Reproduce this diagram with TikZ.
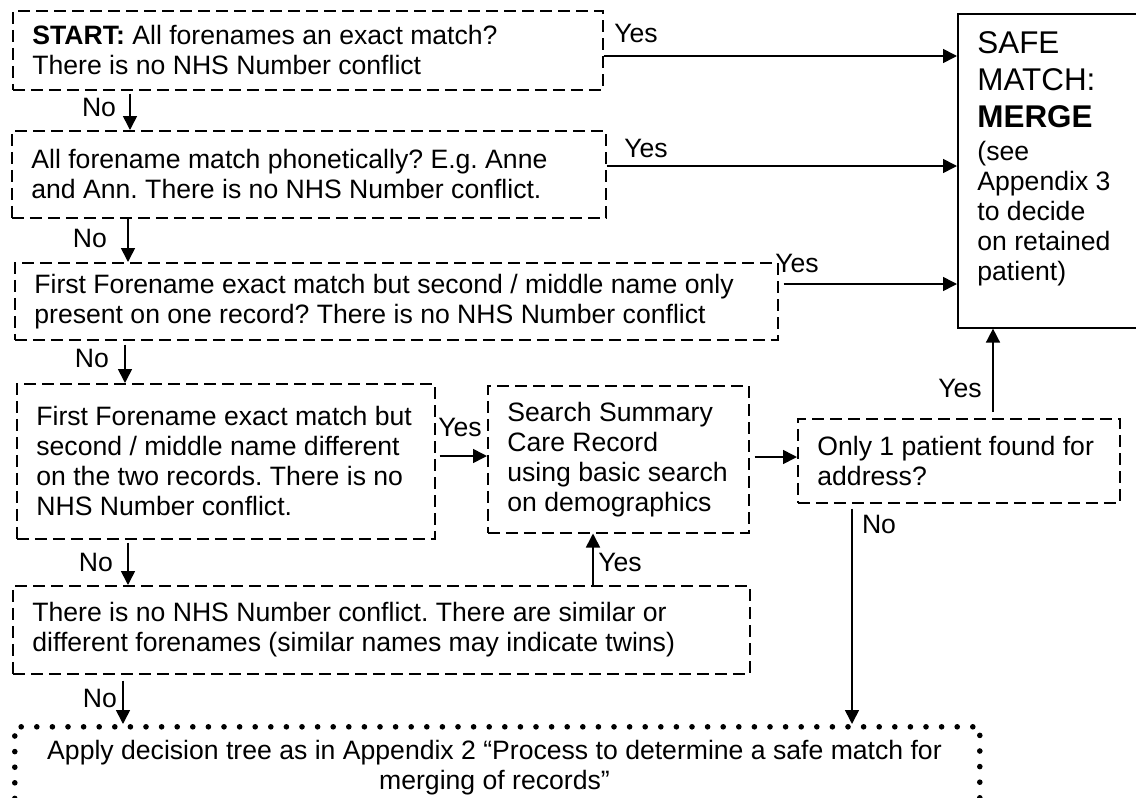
\documentclass[tikz,border=0pt]{standalone}
\usepackage{fontspec}
\setmainfont{Liberation Sans}
\usetikzlibrary{arrows.meta}
\frenchspacing
\begin{document}
\begin{tikzpicture}[x=0.5pt,y=-0.5pt,
  dbox/.style={draw, dash pattern=on 6pt off 3pt, line width=0.75pt, rectangle, inner sep=0pt, anchor=north west},
  sbox/.style={draw, line width=0.8pt, rectangle, inner sep=0pt, anchor=north west},
  pbox/.style={draw, dash pattern=on 0pt off 7.8pt, line cap=round, line width=2.8pt, rectangle, inner sep=0pt, anchor=north west},
  txt/.style={align=left, inner xsep=10pt, inner ysep=0pt, font=\fontsize{13.3}{15}\selectfont\frenchspacing, anchor=west},
  bigtxt/.style={align=left, inner xsep=10pt, inner ysep=0pt, font=\fontsize{15.7}{18.5}\selectfont, anchor=west},
  lbl/.style={inner sep=0pt, font=\fontsize{13.3}{15}\selectfont},
  arr/.style={-{Triangle[length=7pt,width=7pt]}, line width=0.8pt}
]
\useasboundingbox (0,0) rectangle (1136,798);
\clip (0,0) rectangle (1136,798);

% boxes
\node[dbox, minimum width=295pt, minimum height=39.5pt] (b1) at (12,10) {};
\node[dbox, minimum width=297pt, minimum height=43.5pt] (b2) at (11,130) {};
\node[dbox, minimum width=381.5pt, minimum height=38.5pt] (b3) at (14,262) {};
\node[dbox, minimum width=209pt, minimum height=77.5pt] (b4) at (16,383) {};
\node[dbox, minimum width=130.5pt, minimum height=73.5pt] (s) at (487,385) {};
\node[dbox, minimum width=161pt, minimum height=42pt] (only) at (797,418) {};
\node[dbox, minimum width=368.5pt, minimum height=44pt] (b7) at (12,585) {};
\node[pbox, minimum width=482.5pt, minimum height=60pt] (apply) at (12,724) {};
\node[sbox, minimum width=100pt, minimum height=157pt] (safe) at (957,13) {};

% texts
\node[txt] (t1) at (b1.west) {\textbf{START:} All forenames an exact match?\\There is no NHS Number conflict};
\node[txt] (t2) at (b2.west) {All forename match phonetically? E.g. Anne\\and Ann. There is no NHS Number conflict.};
\node[txt] (t3) at (b3.west) {First Forename exact match but second / middle name only\\present on one record? There is no NHS Number conflict};
\node[txt] (t4) at (b4.west) {First Forename exact match but\\second / middle name different\\on the two records. There is no\\NHS Number conflict.};
\node[txt] (ts) at (s.west) {Search Summary\\Care Record\\using basic search\\on demographics};
\node[txt] (tonly) at (only.west) {Only 1 patient found for\\address?};
\node[txt] (t7) at (b7.west) {There is no NHS Number conflict. There are similar or\\different forenames (similar names may indicate twins)};
\node[align=center, inner sep=0pt, font=\fontsize{13.3}{15}\selectfont\frenchspacing] (tapply) at (494.5,768) {Apply decision tree as in Appendix 2 “Process to determine a safe match for\\merging of records”};
\node[bigtxt] (tsafe1) at (957,80) {SAFE\\MATCH:\\\textbf{MERGE}};
\node[txt] (tsafe2) at (957,214) {(see\\Appendix 3\\to decide\\on retained\\patient)};

% helper coordinates
\coordinate (n1) at (130,0);
\coordinate (n2) at (128,0);
\coordinate (n3) at (125,0);
\coordinate (n4) at (128,0);
\coordinate (n5) at (593,0);
\coordinate (n6) at (123,0);
\coordinate (n7) at (993,0);
\coordinate (n8) at (852,0);
\coordinate (y1) at (0,56);
\coordinate (y2) at (0,166);
\coordinate (y3) at (0,284);
\coordinate (y4) at (0,456);
\coordinate (y5) at (0,457);

% connectors
\draw[arr] ([yshift=-1.5pt]b1.south -| n1) -- (b2.north -| n1);
\draw[arr] (b2.south -| n2) -- (b3.north -| n2);
\draw[arr] ([yshift=-2pt]b3.south -| n3) -- (b4.north -| n3);
\draw[arr] ([yshift=-1.5pt]b4.south -| n4) -- (b7.north -| n4);
\draw[arr] ([yshift=-3pt]b7.south -| n6) -- (apply.north -| n6);
\draw[arr] (b1.east |- y1) -- (safe.west |- y1);
\draw[arr] (b2.east |- y2) -- (safe.west |- y2);
\draw[arr] ([xshift=2.5pt]b3.east |- y3) -- (safe.west |- y3);
\draw[arr] ([xshift=2pt]b4.east |- y4) -- (s.west |- y4);
\draw[arr] ([xshift=2.5pt]s.east |- y5) -- (only.west |- y5);
\draw[arr] ([yshift=3pt]only.north -| n7) -- (safe.south -| n7);
\draw[arr] (b7.north -| n5) -- (s.south -| n5);
\draw[arr] ([yshift=-2.5pt]only.south -| n8) -- (apply.north -| n8);

% labels
\node[lbl] (ly1) at (636,33) {Yes};
\node[lbl] (ly2) at (646,148) {Yes};
\node[lbl] (ly3) at (797,263) {Yes};
\node[lbl] (ly4) at (460,427) {Yes};
\node[lbl] (ly5) at (620,562) {Yes};
\node[lbl] (ly6) at (960,388) {Yes};
\node[lbl] (ln1) at (99,107) {No};
\node[lbl] (ln2) at (90,238) {No};
\node[lbl] (ln3) at (92,358) {No};
\node[lbl] (ln4) at (96,562) {No};
\node[lbl] (ln5) at (100,698) {No};
\node[lbl] (ln6) at (879,524) {No};
\end{tikzpicture}
\end{document}
